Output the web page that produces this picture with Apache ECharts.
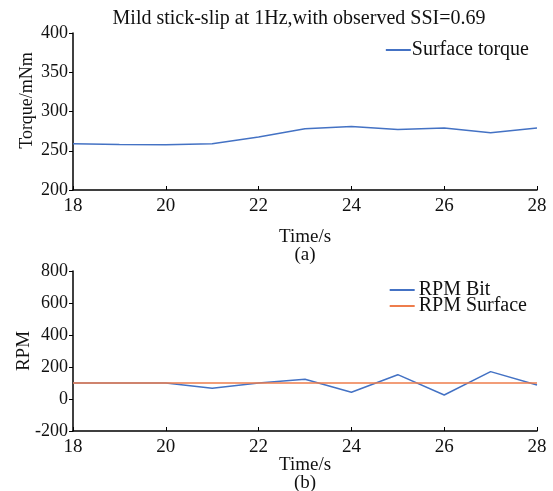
<!DOCTYPE html>
<html>
<head>
    <meta charset="utf-8">
    <title>ECharts</title>
    <script src="https://cdn.jsdelivr.net/npm/echarts@6/dist/echarts.min.js"></script>
    <style>
        body { margin: 0; background: #fff; }
    </style>
</head>
<body>
    <div id="main" style="width: 553px; height: 491px;"></div>
    <script>
        // time axis (s)
        var time = [18, 19, 20, 21, 22, 23, 24, 25, 26, 27, 28]
        // surface torque (mNm)
        var surfaceTorque = [259, 258, 257.5, 259, 267.5, 278, 281, 277, 279, 273, 279]
        // rpm
        var rpmBit = [100, 100, 100, 67, 100, 123, 42, 152, 25, 171, 88]
        var rpmSurface = [100, 100, 100, 100, 100, 100, 100, 100, 100, 100, 100]

        var pairs = function(xs, ys) {
            var out = []
            for (var i = 0; i < xs.length; i++) {
                out.push([xs[i], ys[i]])
            }
            return out
        }

        var font = 'Liberation Serif'
        var blue = '#4472c4'
        var orange = '#ee7d4c'

        var xAxisBase = function(idx, label, gap) {
            return {
                type: 'value',
                gridIndex: idx,
                min: 18,
                max: 28,
                interval: 2,
                name: 'Time/s\n' + label,
                nameLocation: 'middle',
                nameGap: gap,
                nameMoveOverlap: false,
                nameTextStyle: { fontFamily: font, fontSize: 19, color: '#111', lineHeight: 18 },
                axisLine: { onZero: false, lineStyle: { color: '#000', width: 1.5 } },
                axisTick: { inside: true, length: 4, lineStyle: { color: '#000' } },
                axisLabel: { fontFamily: font, fontSize: 19, color: '#111', margin: 7 },
                splitLine: { show: false }
            }
        }

        var yAxisBase = function(idx, name, min, max, interval, gap, size, pad) {
            return {
                type: 'value',
                gridIndex: idx,
                min: min,
                max: max,
                interval: interval,
                name: name,
                nameLocation: 'middle',
                nameGap: gap,
                nameMoveOverlap: false,
                nameTextStyle: { fontFamily: font, fontSize: size, color: '#111', padding: pad },
                axisLine: { show: true, onZero: false, lineStyle: { color: '#000', width: 1.5 } },
                axisTick: { show: true, inside: false, length: 4, lineStyle: { color: '#000' } },
                axisLabel: { fontFamily: font, fontSize: 18, color: '#111', margin: 5 },
                splitLine: { show: false }
            }
        }

        var myChart = echarts.init(document.querySelector('#main'))

        var option = {
            backgroundColor: '#fff',
            animation: false,
            title: {
                text: 'Mild stick-slip at 1Hz,with observed SSI=0.69',
                left: 294,
                textAlign: 'center',
                top: 4,
                textStyle: { fontFamily: font, fontSize: 20, fontWeight: 'normal', color: '#111' }
            },
            legend: [
                {
                    data: ['Surface torque'],
                    right: 19,
                    top: 35,
                    itemWidth: 25,
                    itemGap: 0,
                    icon: 'rect',
                    itemHeight: 2,
                    textStyle: { fontFamily: font, fontSize: 20, color: '#111', padding: [0, 0, 0, -4] }
                },
                {
                    data: ['RPM Bit', 'RPM Surface'],
                    right: 21,
                    top: 275,
                    orient: 'vertical',
                    itemWidth: 25,
                    itemGap: -4,
                    icon: 'rect',
                    itemHeight: 2,
                    textStyle: { fontFamily: font, fontSize: 20, color: '#111', padding: [0, 0, 0, -1], lineHeight: 18 }
                }
            ],
            grid: [
                { left: 73, right: 16, top: 33, height: 157, outerBoundsMode: 'none' },
                { left: 73, right: 16, top: 271, height: 160, outerBoundsMode: 'none' }
            ],
            xAxis: [xAxisBase(0, '(a)', 38), xAxisBase(1, '(b)', 25)],
            yAxis: [
                yAxisBase(0, 'Torque/mNm', 200, 400, 50, 37, 18, [0, 0, 0, 22]),
                yAxisBase(1, 'RPM', -200, 800, 200, 39, 19, [0, 0, 0, 0])
            ],
            series: [
                {
                    name: 'Surface torque',
                    type: 'line',
                    xAxisIndex: 0,
                    yAxisIndex: 0,
                    data: pairs(time, surfaceTorque),
                    showSymbol: false,
                    lineStyle: { color: blue, width: 1.5 },
                    itemStyle: { color: blue }
                },
                {
                    name: 'RPM Bit',
                    type: 'line',
                    xAxisIndex: 1,
                    yAxisIndex: 1,
                    data: pairs(time, rpmBit),
                    showSymbol: false,
                    lineStyle: { color: blue, width: 1.5 },
                    itemStyle: { color: blue }
                },
                {
                    name: 'RPM Surface',
                    type: 'line',
                    xAxisIndex: 1,
                    yAxisIndex: 1,
                    data: pairs(time, rpmSurface),
                    showSymbol: false,
                    z: 3,
                    lineStyle: { color: orange, width: 1.5 },
                    itemStyle: { color: orange }
                }
            ]
        }

        myChart.setOption(option)
    </script>
</body>
</html>
